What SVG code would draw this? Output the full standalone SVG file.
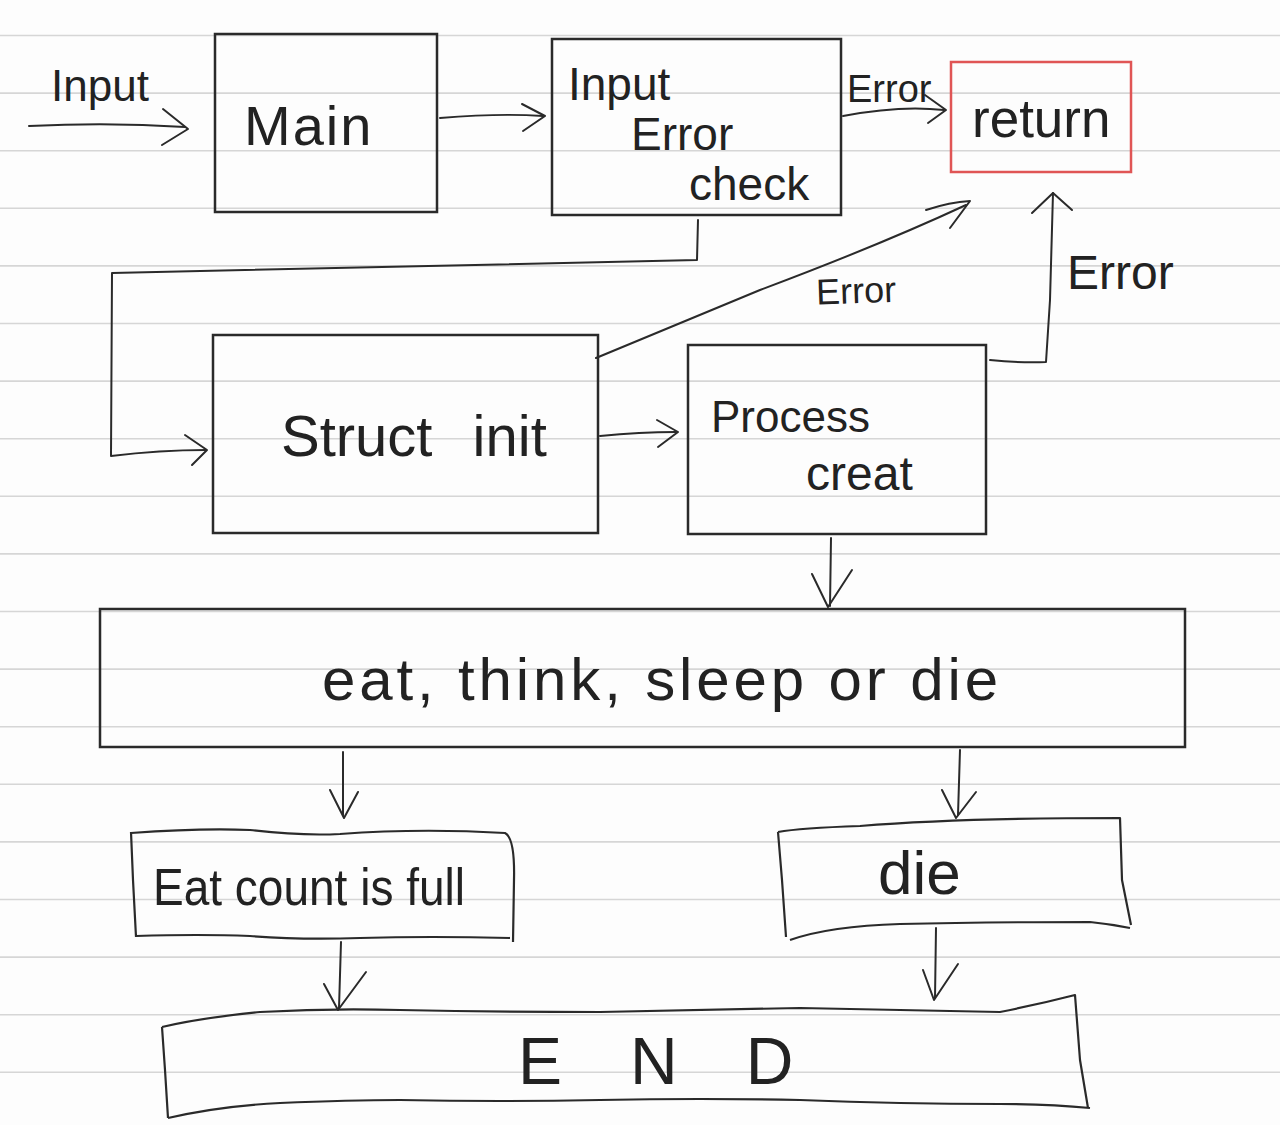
<svg xmlns="http://www.w3.org/2000/svg" width="1280" height="1125" viewBox="0 0 1280 1125">
<style>
.bg{fill:#fdfdfd}
.rule{stroke:#d6d6d6;stroke-width:1.6}
.box{fill:none;stroke:#2a2a2a;stroke-width:2.5}
.ret{fill:none;stroke:#e05555;stroke-width:2.5}
.wob{fill:none;stroke:#2a2a2a;stroke-width:2.2;stroke-linejoin:round}
.con path{fill:none;stroke:#2a2a2a;stroke-width:2;stroke-linecap:round;stroke-linejoin:round}
text{font-family:"Liberation Sans","DejaVu Sans",sans-serif;fill:#222}
</style>
<rect class="bg" x="0" y="0" width="1280" height="1125"/>
<g id="paper-lines">
<line class="rule" x1="0" y1="35.5" x2="1280" y2="35.5"/>
<line class="rule" x1="0" y1="93.1" x2="1280" y2="93.1"/>
<line class="rule" x1="0" y1="150.7" x2="1280" y2="150.7"/>
<line class="rule" x1="0" y1="208.3" x2="1280" y2="208.3"/>
<line class="rule" x1="0" y1="265.9" x2="1280" y2="265.9"/>
<line class="rule" x1="0" y1="323.5" x2="1280" y2="323.5"/>
<line class="rule" x1="0" y1="381.1" x2="1280" y2="381.1"/>
<line class="rule" x1="0" y1="438.7" x2="1280" y2="438.7"/>
<line class="rule" x1="0" y1="496.3" x2="1280" y2="496.3"/>
<line class="rule" x1="0" y1="553.9" x2="1280" y2="553.9"/>
<line class="rule" x1="0" y1="611.5" x2="1280" y2="611.5"/>
<line class="rule" x1="0" y1="669.1" x2="1280" y2="669.1"/>
<line class="rule" x1="0" y1="726.7" x2="1280" y2="726.7"/>
<line class="rule" x1="0" y1="784.3" x2="1280" y2="784.3"/>
<line class="rule" x1="0" y1="841.9" x2="1280" y2="841.9"/>
<line class="rule" x1="0" y1="899.5" x2="1280" y2="899.5"/>
<line class="rule" x1="0" y1="957.1" x2="1280" y2="957.1"/>
<line class="rule" x1="0" y1="1014.7" x2="1280" y2="1014.7"/>
<line class="rule" x1="0" y1="1072.3" x2="1280" y2="1072.3"/>
</g>
<g id="connectors" class="con">
<path d="M29,126 Q110,122 185,127"/>
<path d="M163,109 L188,129 L162,145"/>
<path d="M440,118 Q500,113 543,116"/>
<path d="M522,104 L545,116 L523,131"/>
<path d="M843,116 Q900,105 944,110"/>
<path d="M925,95 L946,110 L928,123"/>
<path d="M698,220 L697,260 L112,273 L111,456 Q160,450 206,450"/>
<path d="M185,435 L207,450 L192,465"/>
<path d="M600,436 Q640,432 676,432"/>
<path d="M657,420 L678,432 L658,447"/>
<path d="M596,358 Q640,340 760,290 Q880,245 966,205"/>
<path d="M926,210 Q950,202 970,201 L950,228"/>
<path d="M990,360 Q1020,363 1046,362 L1050,300 L1053,193"/>
<path d="M1032,213 L1053,193 L1072,210"/>
<path d="M831,538 L830,606"/>
<path d="M812,574 L828,607 L852,570"/>
<path d="M343,752 L343,815"/>
<path d="M330,790 L344,818 L358,792"/>
<path d="M960,750 L958,815"/>
<path d="M942,790 L956,818 L976,792"/>
<path d="M341,942 L339,1008"/>
<path d="M324,984 L338,1010 L366,972"/>
<path d="M936,928 L935,998"/>
<path d="M923,970 L934,1000 L958,964"/>
</g>
<g id="label-input"><text x="51" y="101" font-size="44">Input</text></g>
<g id="label-error-1"><text x="847" y="102" font-size="38">Error</text></g>
<g id="label-error-2"><text x="816" y="303" font-size="36" transform="rotate(-2 860 290)">Error</text></g>
<g id="label-error-3"><text x="1067" y="289" font-size="48">Error</text></g>
<g id="node-main">
<rect class="box" x="215" y="34" width="222" height="178"/>
<text x="244" y="145" font-size="56" letter-spacing="2">Main</text>
</g>
<g id="node-check">
<rect class="box" x="552" y="39" width="289" height="176"/>
<text x="568" y="100" font-size="46">Input</text>
<text x="631" y="150" font-size="46">Error</text>
<text x="689" y="200" font-size="46">check</text>
</g>
<g id="node-return">
<rect class="ret" x="951" y="62" width="180" height="110"/>
<text x="972" y="137" font-size="53">return</text>
</g>
<g id="node-struct">
<rect class="box" x="213" y="335" width="385" height="198"/>
<text x="281" y="456" font-size="58" word-spacing="24">Struct init</text>
</g>
<g id="node-process">
<rect class="box" x="688" y="345" width="298" height="189"/>
<text x="711" y="432" font-size="44">Process</text>
<text x="806" y="490" font-size="48">creat</text>
</g>
<g id="node-loop">
<rect class="box" x="100" y="609" width="1085" height="138"/>
<text x="322" y="700" font-size="60" textLength="676" lengthAdjust="spacing">eat, think, sleep or die</text>
</g>
<g id="node-full">
<path class="wob" d="M131,833 Q200,828 250,830 Q300,836 340,834 Q420,828 505,833 Q515,838 514,880 L513,942 M136,936 Q200,934 250,936 Q300,940 360,938 Q430,936 510,938 M131,832 L133,880 L136,937"/>
<text x="153" y="905" font-size="52" textLength="312" lengthAdjust="spacingAndGlyphs">Eat count is full</text>
</g>
<g id="node-die">
<path class="wob" d="M778,832 Q800,828 860,826 Q960,818 1120,818 L1122,880 L1131,925 M790,940 Q830,926 900,924 Q980,922 1090,922 Q1110,924 1130,928 M778,832 L782,880 L786,937"/>
<text x="878" y="894" font-size="62">die</text>
</g>
<g id="node-end">
<path class="wob" d="M162,1027 Q200,1018 260,1012 Q330,1008 400,1010 Q500,1012 600,1012 Q700,1010 800,1008 Q900,1010 1000,1012 Q1040,1004 1075,995 L1080,1060 L1088,1108 M168,1118 Q220,1106 280,1103 Q350,1100 400,1100 Q500,1102 600,1100 Q700,1098 800,1100 Q900,1104 1000,1104 Q1050,1104 1090,1108 M162,1027 L165,1070 L168,1118"/>
<text x="518" y="1084" font-size="66" letter-spacing="68">END</text>
</g>
</svg>
